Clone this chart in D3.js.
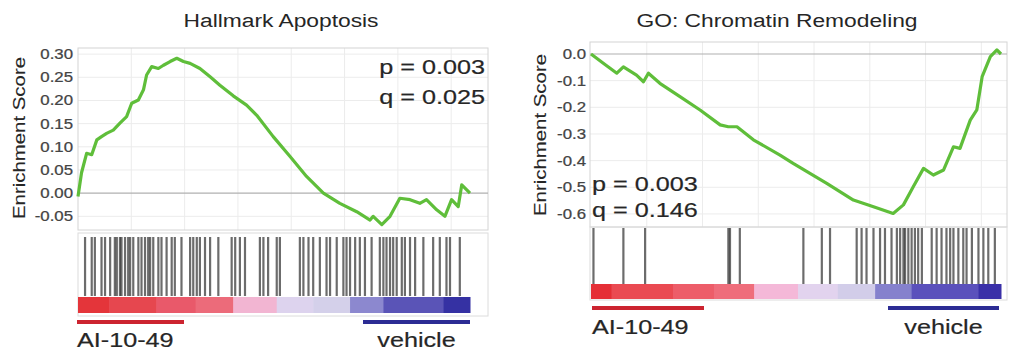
<!DOCTYPE html>
<html>
<head>
<meta charset="utf-8">
<script src="https://cdn.jsdelivr.net/npm/d3@7"></script>
<style>
  body { margin: 0; background: #fff; }
  svg { display: block; font-family: "Liberation Sans", Arial, sans-serif; }
</style>
</head>
<body>
<svg id="chart" width="1012" height="352"></svg>
<script>
// Hallmark Apoptosis: running enrichment score (rank position in % of list)
const apoptosisRank = [0, 0.9, 2.2, 3.5, 4.8, 6.0, 7.3, 9.0, 10.7, 12.4, 13.7, 15.4, 16.7, 17.5, 18.8, 20.5,
  21.8, 23.5, 25.2, 26.9, 28.6, 31.1, 33.7, 36.2, 39.6, 43.0, 45.6, 49.8, 54.1, 58.3, 62.6, 66.8, 71.1,
  74.5, 75.3, 77.5, 79.6, 82.1, 84.7, 87.2, 88.9, 91.5, 93.6, 95.3, 97.0, 97.9, 100];
const apoptosisES = [-0.007, 0.044, 0.086, 0.083, 0.115, 0.122, 0.129, 0.136, 0.151, 0.165, 0.194, 0.201,
  0.223, 0.255, 0.273, 0.269, 0.276, 0.284, 0.291, 0.284, 0.280, 0.269, 0.251, 0.233, 0.21, 0.19, 0.168,
  0.122, 0.079, 0.036, 0.0, -0.022, -0.040, -0.058, -0.05, -0.068, -0.05, -0.011, -0.014, -0.022, -0.014,
  -0.036, -0.05, -0.014, -0.029, 0.018, 0.0];
const apoptosisHits = [1.8, 3.5, 4.3, 6.0, 6.9, 8.2, 9.4, 9.9, 10.7, 11.1, 12.0, 12.8, 13.3, 14.1, 15.4,
  16.2, 17.1, 17.9, 18.4, 19.2, 20.5, 21.3, 22.6, 23.9, 24.7, 26.4, 28.6, 29.4, 30.3, 31.1, 32.4, 33.7,
  35.8, 39.2, 40.1, 41.3, 42.6, 46.4, 47.3, 48.5, 50.7, 51.5, 56.6, 57.5, 58.8, 60.0, 61.7, 63.4, 64.3,
  66.0, 67.7, 68.5, 69.4, 70.7, 71.9, 73.2, 74.9, 77.0, 77.9, 78.7, 79.6, 80.4, 81.3, 82.6, 83.4, 84.7,
  86.0, 88.1, 90.6, 92.3, 94.0, 94.9, 97.4];
const apoptosisTicks = [0.30, 0.25, 0.20, 0.15, 0.10, 0.05, 0.00, -0.05];

// GO: Chromatin Remodeling
const chromatinRank = [0, 3.0, 6.3, 7.9, 11.1, 12.8, 14.0, 16.8, 21.7, 26.6, 31.5, 33.5, 35.6, 39.6,
  46.1, 49.3, 57.5, 64.0, 68.9, 73.7, 76.2, 78.6, 81.1, 83.5, 86.0, 88.4, 90.0, 92.5, 94.1, 95.4, 97.4,
  99.0, 100];
const chromatinES = [0.0, -0.035, -0.072, -0.048, -0.079, -0.104, -0.072, -0.110, -0.160, -0.21, -0.266,
  -0.273, -0.273, -0.322, -0.379, -0.41, -0.485, -0.548, -0.573, -0.598, -0.566, -0.498, -0.429, -0.454,
  -0.435, -0.348, -0.354, -0.248, -0.21, -0.085, -0.01, 0.015, 0.0];
const chromatinHits = [0.6, 7.9, 13.2, 33.5, 33.9, 36.3, 51.8, 56.3, 58.3, 64.8, 66.0, 67.2, 68.9, 70.5,
  71.7, 73.3, 74.6, 75.4, 76.2, 76.6, 77.4, 78.2, 79.0, 79.8, 80.7, 83.1, 84.3, 85.5, 86.7, 87.6, 88.4,
  89.6, 90.8, 91.6, 92.9, 94.5, 95.7, 96.9, 98.5];
const chromatinTicks = [0.0, -0.1, -0.2, -0.3, -0.4, -0.5, -0.6];

// ranked list heat bar: segment ends (% of list) and colours
const apoptosisBarEnds = [8, 20, 30, 39.6, 50.7, 60, 69.4, 77.9, 93.2, 100];
const apoptosisBarColors = ['#e4353a', '#e6474f', '#e9596a', '#ec6b7a', '#f2b5d2', '#ddd3ee', '#d4d0ea',
  '#8c88cf', '#5a54b7', '#3531a3'];
const chromatinBarEnds = [5, 20, 30, 39.8, 50.5, 60.2, 69.3, 78.2, 94.5, 100];
const chromatinBarColors = ['#e52f36', '#ea4a52', '#ed5d69', '#ef6d7b', '#f4b8d8', '#e2d3ee', '#d2cde9',
  '#8581cd', '#5b51bc', '#3a30a8'];

const panels = [
  {
    title: 'Hallmark Apoptosis', titleX: 281, titleY: 27,
    rank: apoptosisRank, es: apoptosisES, hits: apoptosisHits, ticks: apoptosisTicks, fmt: 2,
    barEnds: apoptosisBarEnds, barColors: apoptosisBarColors,
    frame: [78, 488, 48, 230], xRange: [78, 470], yDomain: [-0.0795, 0.3132],
    tickX: 73, labelX: 25, labelY: 138,
    hitBox: [233, 316], hitY: [237, 296], heatY: [297, 313],
    stats: ['p = 0.003', 'q = 0.025'], statX: 485, statY: [74, 104], statAnchor: 'end',
    lineY: 322, redX: [77, 184], blueX: [363, 470], textY: 347
  },
  {
    title: 'GO: Chromatin Remodeling', titleX: 777, titleY: 27,
    rank: chromatinRank, es: chromatinES, hits: chromatinHits, ticks: chromatinTicks, fmt: 1,
    barEnds: chromatinBarEnds, barColors: chromatinBarColors,
    frame: [590, 1007, 42, 227], xRange: [591, 1001], yDomain: [-0.649, 0.045],
    tickX: 586, labelX: 546, labelY: 135,
    hitBox: [227, 300], hitY: [228, 284], heatY: [284, 299],
    stats: ['p = 0.003', 'q = 0.146'], statX: 592, statY: [191, 217], statAnchor: 'start',
    lineY: 308, redX: [592, 704], blueX: [888, 999], textY: 334
  }
];

const svg = d3.select('#chart');
const stretch = 1.2;

function addText(g, str, x, y, size, anchor, rotate, weight) {
  return g.append('text')
    .attr('transform', `translate(${x},${y})${rotate ? ' rotate(-90)' : ''} scale(${stretch},1)`)
    .attr('text-anchor', anchor)
    .attr('font-size', size)
    .attr('fill', '#262626')
    .attr('stroke', '#262626')
    .attr('stroke-width', weight || 0)
    .text(str);
}

panels.forEach(p => {
  const g = svg.append('g');
  const [x0, x1, y0, y1] = p.frame;
  const x = d3.scaleLinear().domain([0, 100]).range(p.xRange);
  const y = d3.scaleLinear().domain(p.yDomain).range([y1, y0]);

  // faint grid
  const grid = g.append('g').attr('stroke', '#ececec').attr('stroke-width', 1);
  grid.selectAll('line.v')
    .data(d3.range(13.6, 100, 13.6))
    .join('line')
    .attr('x1', d => x(d)).attr('x2', d => x(d))
    .attr('y1', y0).attr('y2', y1);
  grid.selectAll('line.h')
    .data(p.ticks.filter(t => t !== 0))
    .join('line')
    .attr('x1', x0).attr('x2', x1)
    .attr('y1', d => y(d)).attr('y2', d => y(d));

  // frames
  g.append('rect')
    .attr('x', x0).attr('y', y0).attr('width', x1 - x0).attr('height', y1 - y0)
    .attr('fill', 'none').attr('stroke', '#d4d4d4');
  g.append('rect')
    .attr('x', x0).attr('y', p.hitBox[0]).attr('width', x1 - x0).attr('height', p.hitBox[1] - p.hitBox[0])
    .attr('fill', 'none').attr('stroke', '#dcdcdc');

  // zero line
  g.append('line')
    .attr('x1', x0).attr('x2', x1)
    .attr('y1', y(0)).attr('y2', y(0))
    .attr('stroke', '#b0b0b0').attr('stroke-width', 1.2);

  // y axis
  const axis = d3.axisLeft(y)
    .tickValues(p.ticks)
    .tickSize(0)
    .tickPadding(0)
    .tickFormat(d => d.toFixed(p.fmt));
  const ax = g.append('g')
    .attr('transform', `translate(${p.tickX},0) scale(${stretch},1)`)
    .call(axis);
  ax.select('.domain').remove();
  ax.selectAll('text')
    .attr('font-size', 14)
    .attr('font-family', '"Liberation Sans", Arial, sans-serif')
    .attr('fill', '#444')
    .attr('stroke', '#444')
    .attr('stroke-width', 0.25);

  // running enrichment score
  const pts = p.rank.map((r, i) => [r, p.es[i]]);
  g.append('path')
    .datum(pts)
    .attr('fill', 'none')
    .attr('stroke', '#5fbe3a')
    .attr('stroke-width', 3.2)
    .attr('stroke-linejoin', 'round')
    .attr('d', d3.line().x(d => x(d[0])).y(d => y(d[1])));

  // hit barcode
  g.append('g')
    .selectAll('line')
    .data(p.hits)
    .join('line')
    .attr('x1', d => x(d)).attr('x2', d => x(d))
    .attr('y1', p.hitY[0]).attr('y2', p.hitY[1])
    .attr('stroke', '#111')
    .attr('stroke-opacity', 0.62)
    .attr('stroke-width', 2.2);

  // ranked list colour bar
  g.append('g')
    .selectAll('rect')
    .data(p.barEnds)
    .join('rect')
    .attr('x', (d, i) => x(i === 0 ? 0 : p.barEnds[i - 1]))
    .attr('width', (d, i) => x(d) - x(i === 0 ? 0 : p.barEnds[i - 1]) + 0.5)
    .attr('y', p.heatY[0])
    .attr('height', p.heatY[1] - p.heatY[0])
    .attr('fill', (d, i) => p.barColors[i]);

  // phenotype lines and labels
  g.append('line')
    .attr('x1', p.redX[0]).attr('x2', p.redX[1])
    .attr('y1', p.lineY).attr('y2', p.lineY)
    .attr('stroke', '#cc2430').attr('stroke-width', 4);
  g.append('line')
    .attr('x1', p.blueX[0]).attr('x2', p.blueX[1])
    .attr('y1', p.lineY).attr('y2', p.lineY)
    .attr('stroke', '#2c2c94').attr('stroke-width', 4);
  addText(g, 'AI-10-49', p.redX[0], p.textY, 21, 'start', false, 0.2);
  addText(g, 'vehicle', (p.blueX[0] + p.blueX[1]) / 2, p.textY, 21, 'middle', false, 0.2);

  // titles, axis label, stats
  addText(g, p.title, p.titleX, p.titleY, 19, 'middle');
  addText(g, 'Enrichment Score', p.labelX, p.labelY, 17, 'middle', true, 0.1);
  p.stats.forEach((s, i) => addText(g, s, p.statX, p.statY[i], 21, p.statAnchor, false, 0.2));
});
</script>
</body>
</html>
